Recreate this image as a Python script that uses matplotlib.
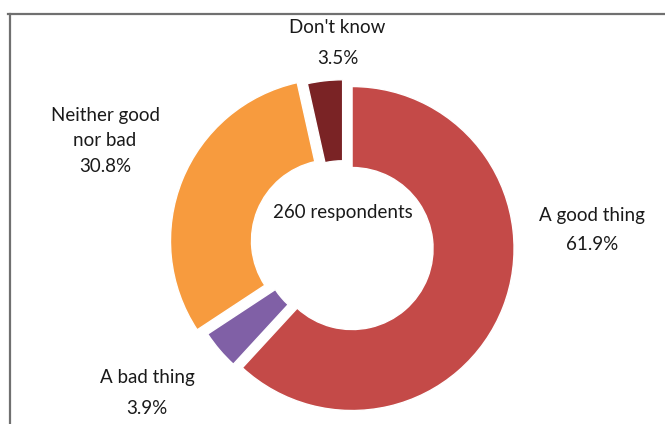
import matplotlib.pyplot as plt
from matplotlib.lines import Line2D

labels = ["A good thing", "A bad thing", "Neither good\nnor bad", "Don't know"]
values = [61.9, 3.9, 30.8, 3.5]
colors = ["#C44A48", "#8060A6", "#F79B3E", "#7A2325"]
explode = [0.06, 0.0, 0.07, 0.02]
total_respondents = 260

# label anchor points (data units, ring radius = 1) and line spacing per label
label_xy = [(1.537, 0.090), (-1.21, -0.914), (-1.469, 0.642), (-0.034, 1.247)]
label_spacing = [1.85, 1.95, 1.6, 1.95]

plt.rcParams["font.family"] = ["Lato", "DejaVu Sans"]

fig = plt.figure(figsize=(6.65, 4.24), dpi=100)
ax = fig.add_axes([0, 0, 1, 1])

ax.pie(
    values,
    colors=colors,
    explode=explode,
    startangle=90,
    counterclock=False,
    radius=1.0,
    wedgeprops=dict(width=0.5, edgecolor="white", linewidth=1),
)

for lab, v, (x, y), ls in zip(labels, values, label_xy, label_spacing):
    ax.text(x, y, f"{lab}\n{v:.1f}%", ha="center", va="center",
            fontsize=13.5, color="#1a1a1a", linespacing=ls)

ax.text(0, 0.198, f"{total_respondents} respondents", ha="center", va="center",
        fontsize=13.5, color="#1a1a1a")

# scale: 162 px per unit, ring centre at (343, 245) px
ax.set_xlim(-343 / 162, (665 - 343) / 162)
ax.set_ylim(-(424 - 245) / 162, 245 / 162)
ax.set_aspect("equal")
ax.axis("off")

# open frame: top and left edges only
fig.add_artist(Line2D([8 / 665, 1], [1 - 14 / 424] * 2, color="#707070", lw=1.6))
fig.add_artist(Line2D([9.5 / 665] * 2, [0, 1 - 14 / 424], color="#707070", lw=1.6))

fig.savefig("out.png", dpi=100)
